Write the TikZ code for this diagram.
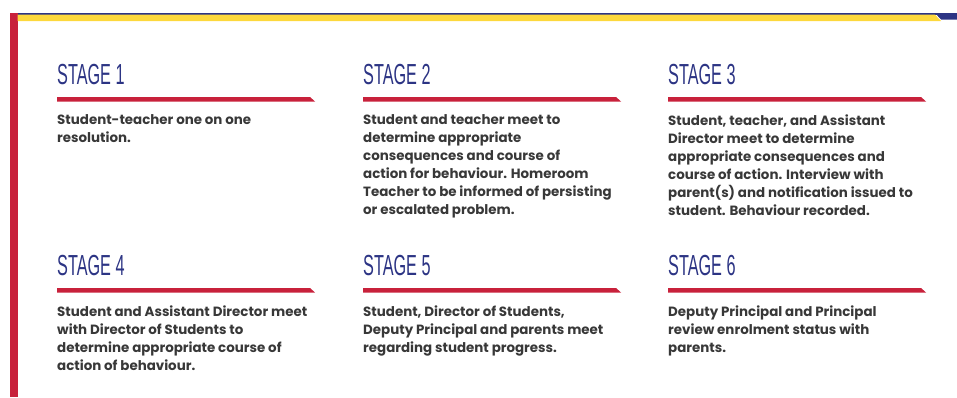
\documentclass[tikz,border=0pt]{standalone}
\usepackage{fontspec}
\setmainfont{Poppins}
\newfontfamily\stagefont[FakeStretch=0.56]{Liberation Sans}
\usetikzlibrary{positioning}

\definecolor{stagered}{HTML}{C8213B}
\definecolor{stagenavy}{HTML}{2C3484}
\definecolor{stageyellow}{HTML}{FDD83C}
\definecolor{bodygray}{HTML}{383838}

\tikzset{
  heading/.style={anchor=base west, inner sep=0pt, text=stagenavy,
    font=\stagefont\fontsize{29}{29}\selectfont},
  rulebar/.style={fill=stagered, draw=none},
  stagetext/.style={anchor=north west, inner sep=0pt, align=left, text=bodygray,
    font=\bfseries\fontsize{13.4}{18}\selectfont},
}

\begin{document}
\begin{tikzpicture}[x=1pt, y=-1pt]
\useasboundingbox (0,0) rectangle (957,397);
% frame
\fill[stagered] (10,13) rectangle (17.5,397);
\fill[stagenavy] (17.5,13) rectangle (957,14.6);
\fill[stageyellow] (17.5,14.6) -- (935,14.6) -- (941,21) -- (17.5,21) -- cycle;
\fill[stagenavy] (935,13) -- (957,13) -- (957,19.5) -- (941,19.5) -- cycle;

% headings
\node[heading] (h1) at (57,84)   {STAGE 1};
\node[heading] (h2) at (363,84)  {STAGE 2};
\node[heading] (h3) at (668,84)  {STAGE 3};
\node[heading] (h4) at (57,275)  {STAGE 4};
\node[heading] (h5) at (363,275) {STAGE 5};
\node[heading] (h6) at (668,275) {STAGE 6};

% red rules under the headings
\foreach \h in {h1,h2,h3,h4,h5,h6} {
  \path[rulebar] ([yshift=-13pt]\h.base west) -- ++(253,0) -- ++(5,4.5) -- ++(-258,0) -- cycle;
}

% texts
\node[stagetext] (t1) at (57,114.5) {Student-teacher one on one\\resolution.};
\node[stagetext] (t2) at (363,114.5) {Student and teacher meet to\\determine appropriate\\consequences and course of\\action for behaviour. Homeroom\\Teacher to be informed of persisting\\or escalated problem.};
\node[stagetext] (t3) at (668,114.5) {Student, teacher, and Assistant\\Director meet to determine\\appropriate consequences and\\course of action. Interview with\\parent(s) and notification issued to\\student. Behaviour recorded.};
\node[stagetext] (t4) at (57,305.5) {Student and Assistant Director meet\\with Director of Students to\\determine appropriate course of\\action of behaviour.};
\node[stagetext] (t5) at (363,305.5) {Student, Director of Students,\\Deputy Principal and parents meet\\regarding student progress.};
\node[stagetext] (t6) at (668,305.5) {Deputy Principal and Principal\\review enrolment status with\\parents.};
\end{tikzpicture}
\end{document}
